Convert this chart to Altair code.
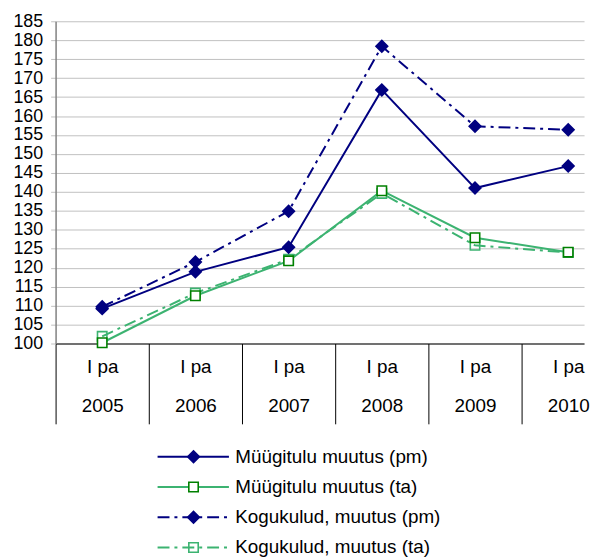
import altair as alt
import pandas as pd

years = ["2005", "2006", "2007", "2008", "2009", "2010"]
period_label = "I pa"
names = ["Müügitulu muutus (pm)", "Müügitulu muutus (ta)",
         "Kogukulud, muutus (pm)", "Kogukulud, muutus (ta)"]
sales_pm = [109.2, 118.9, 125.4, 166.9, 141.0, 146.8]
sales_ta = [100.2, 112.6, 121.8, 140.3, 127.9, 124.1]
cost_pm = [109.7, 121.5, 134.9, 178.4, 157.3, 156.4]
cost_ta = [101.9, 113.3, 122.2, 139.6, 125.9, 124.0]
y_ticks = list(range(100, 186, 5))

series_values = [sales_pm, sales_ta, cost_pm, cost_ta]

NAVY = "#000080"
GREEN_LINE = "#3CB371"
DARK_GREEN = "#008000"
FONT = "Liberation Sans"

styles = [
    dict(color=NAVY, dash=None, shape="diamond", fill=NAVY, stroke=NAVY, size=140),
    dict(color=GREEN_LINE, dash=None, shape="square", fill="white", stroke=DARK_GREEN, size=90),
    dict(color=NAVY, dash=[12, 5, 3, 5], shape="diamond", fill=NAVY, stroke=NAVY, size=140),
    dict(color=GREEN_LINE, dash=[12, 5, 3, 5], shape="square", fill="transparent", stroke=GREEN_LINE, size=90),
]

rows = []
for name, vals in zip(names, series_values):
    for i, v in enumerate(vals):
        rows.append({"series": name, "idx": i, "value": v})
df = pd.DataFrame(rows)

PLOT_W = 533
BAND = PLOT_W / 5.67

x_enc = alt.X(
    "idx:Q",
    scale=alt.Scale(domain=[-0.5, 5.17], nice=False, zero=False),
    axis=alt.Axis(
        values=list(range(len(years))),
        title=None,
        grid=False,
        tickOffset=-BAND / 2,
        labelOffset=BAND / 2,
        tickSize=81,
        tickColor="black",
        domainColor="black",
        labelExpr="['" + period_label + "', " + str(years) + "[datum.value]]",
        labelLineHeight=40,
        labelBaseline="top",
        labelPadding=-67,
        labelFontSize=19,
        labelFont=FONT,
        labelColor="black",
        labelFlush=False,
        labelOverlap=False,
    ),
)
y_enc = alt.Y(
    "value:Q",
    scale=alt.Scale(domain=[100, 185], nice=False, zero=False),
    axis=alt.Axis(
        values=y_ticks,
        title=None,
        grid=True,
        gridColor="#c0c0c0",
        tickColor="#c0c0c0",
        tickSize=5,
        domainColor="#808080",
        domainWidth=1.5,
        labelPadding=8,
        labelFontSize=18,
        labelFont=FONT,
        labelColor="black",
        labelFlush=False,
        labelOverlap=False,
    ),
)

layers = []
for i in [3, 1, 2, 0]:
    st = styles[i]
    base = alt.Chart(df).transform_filter(alt.datum.series == names[i])
    line_kw = dict(color=st["color"], strokeWidth=2)
    if st["dash"]:
        line_kw["strokeDash"] = st["dash"]
    layers.append(base.mark_line(**line_kw).encode(x=x_enc, y=y_enc))
    layers.append(
        base.mark_point(shape=st["shape"], size=st["size"], fill=st["fill"],
                        stroke=st["stroke"], strokeWidth=1.6, opacity=1,
                        fillOpacity=1).encode(x=x_enc, y=y_enc)
    )

main = alt.layer(*layers).properties(width=PLOT_W, height=325)

# legend
legend_df = pd.DataFrame({"series": names, "row": list(range(len(names)))})
lx = alt.Scale(domain=[0, 1], nice=False, zero=False)
ly = alt.Scale(domain=[-0.5, 3.5], nice=False, zero=False, reverse=True)
LINE_X0, LINE_X1, MARK_X, TEXT_X = 0.193, 0.328, 0.261, 0.340

leg_layers = []
for i in range(len(names)):
    st = styles[i]
    base = alt.Chart(legend_df).transform_filter(alt.datum.series == names[i])
    rule_kw = dict(color=st["color"], strokeWidth=2)
    if st["dash"]:
        rule_kw["strokeDash"] = st["dash"]
    leg_layers.append(base.mark_rule(**rule_kw).encode(
        x=alt.datum(LINE_X0, scale=lx, axis=None),
        x2=alt.datum(LINE_X1),
        y=alt.Y("row:Q", scale=ly, axis=None)))
    leg_layers.append(base.mark_point(shape=st["shape"], size=st["size"], fill=st["fill"],
                                      stroke=st["stroke"], strokeWidth=1.6, opacity=1,
                                      fillOpacity=1).encode(
        x=alt.datum(MARK_X, scale=lx, axis=None),
        y=alt.Y("row:Q", scale=ly, axis=None)))
    leg_layers.append(base.mark_text(align="left", baseline="middle", fontSize=19,
                                     font=FONT, color="black").encode(
        x=alt.datum(TEXT_X, scale=lx, axis=None),
        y=alt.Y("row:Q", scale=ly, axis=None),
        text="series:N"))

legend = alt.layer(*leg_layers).properties(width=PLOT_W, height=122)

chart = alt.vconcat(main, legend, spacing=17).properties(
    padding={"left": 4, "top": 2, "right": 0, "bottom": 0}
).configure_view(stroke=None)

chart.save("out.html", embed_options={"renderer": "svg", "actions": False})
